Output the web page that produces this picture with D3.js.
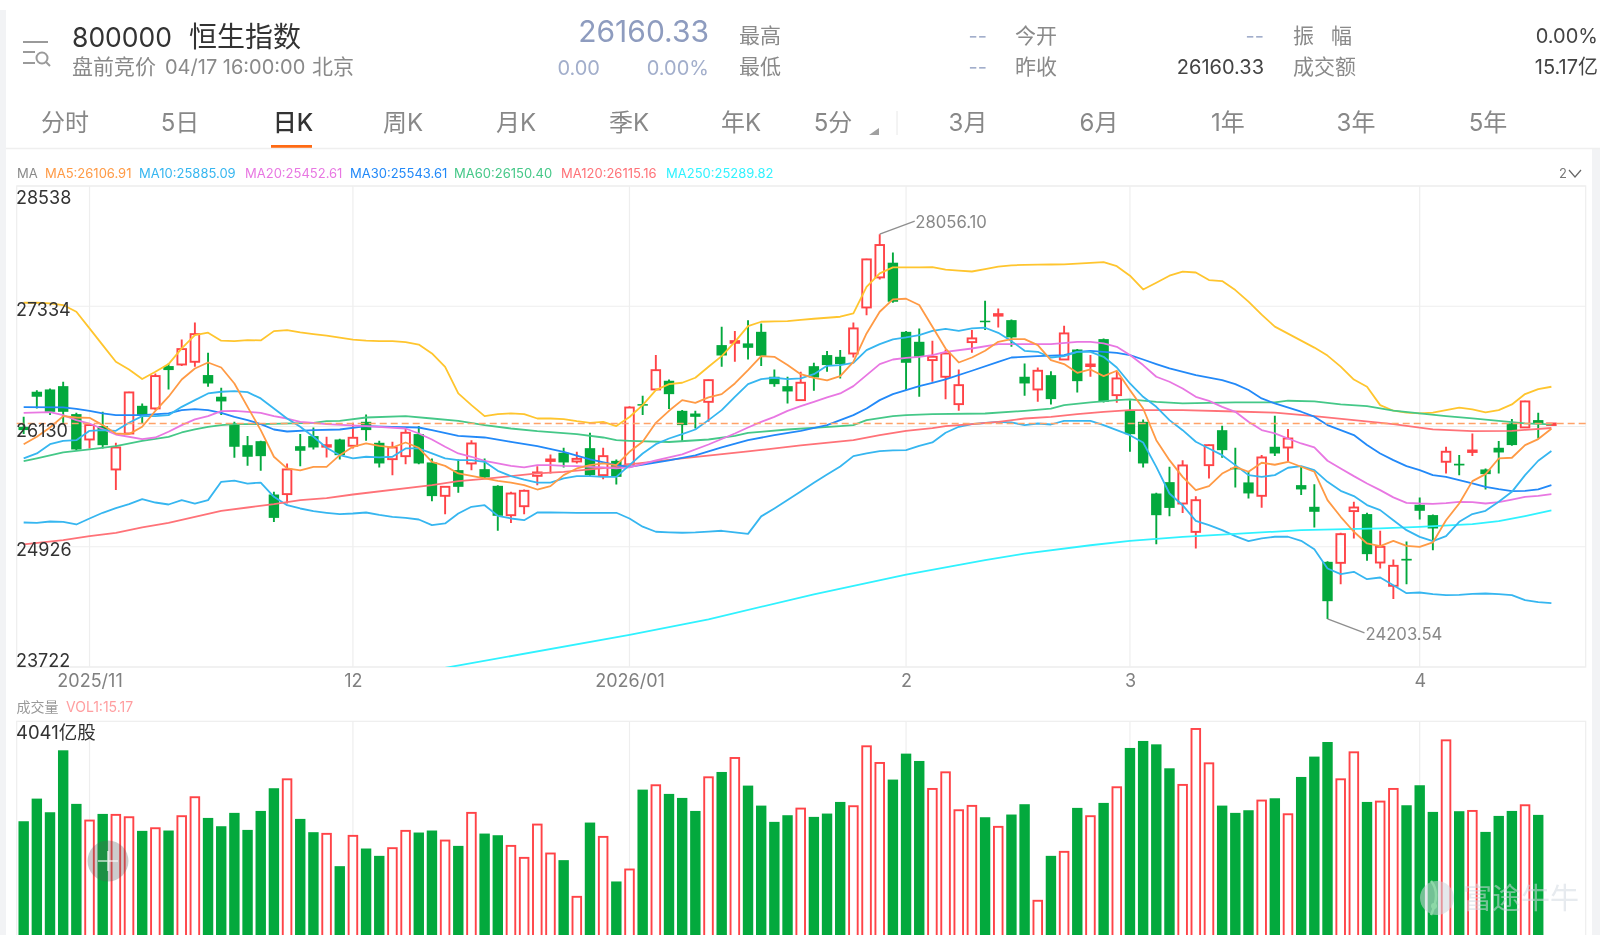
<!DOCTYPE html>
<html>
<head>
<meta charset="utf-8">
<title>恒生指数</title>
<script src="https://cdn.jsdelivr.net/npm/d3@7"></script>
<style>
html, body { margin: 0; padding: 0; background: #fff; overflow: hidden; }
svg { display: block; filter: blur(0.5px); }
text { font-family: Inter, "Noto Sans CJK SC", sans-serif; }
</style>
</head>
<body>
<script>
// daily candles, one per session, from late Oct 2025 to the pre-market doji of 04/17
var candleOpen = [
26127,26478,26501,26534,26254,26000,26134,25700,26060,26337,
26311,26735,26751,26778,26645,26428,26160,25943,25983,25449,
25453,25933,26034,25930,26000,25937,26177,25967,25803,25833,
26054,25770,25436,25693,25760,25703,25536,25242,25332,25636,
25786,25867,25780,25913,25643,25786,25750,26354,26501,26588,
26287,26260,26377,26945,26968,26962,27078,26628,26534,26394,
26734,26845,26828,26861,27322,27623,27770,27078,26978,26795,
26628,26354,26975,27189,27242,27195,26628,26501,26644,26801,
26901,26735,27005,26444,26287,26177,25459,25573,25359,25075,
25743,26093,25716,25570,25436,25927,25920,25543,25326,24775,
24765,25283,25253,24768,24535,24805,25346,25243,25777,25757,
25877,25700,25917,26161,26121,26194,26160.33];
var candleClose = [
26094,26428,26277,26277,25900,26144,25943,25920,26471,26237,
26635,26695,26905,27055,26561,26381,25927,25827,25833,25215,
25700,25887,25920,25943,25843,26017,26094,25760,25920,26067,
25760,25433,25526,25526,25960,25620,25236,25459,25486,25670,
25800,25770,25806,25643,25833,25626,26320,26340,26694,26454,
26144,26227,26594,26841,26985,26918,26838,26554,26481,26568,
26621,26745,26755,27112,27803,27947,27379,26768,26828,26828,
26861,26544,27012,27175,27255,27022,26561,26688,26404,27062,
26584,26751,26377,26611,26053,25760,25242,25315,25740,25392,
25943,25893,25703,25460,25820,25860,26010,25500,25276,24381,
25052,25319,24852,24925,24735,24788,25286,25109,25877,25740,
25890,25653,25870,25944,26381,26154,26160.33];
var candleHigh = [
26227,26494,26511,26578,26267,26160,26277,25967,26478,26361,
26661,26762,27002,27172,26868,26518,26177,26034,25987,25476,
25760,26054,26120,26027,26007,26167,26251,25987,25977,26110,
26134,25810,25533,25800,25993,25810,25543,25476,25499,25733,
25850,25917,25877,26067,25917,25800,26334,26437,26845,26601,
26294,26287,26601,27129,27085,27195,27162,26701,26628,26678,
26768,26885,26895,27172,27810,28056.10,27873,27085,27112,26988,
26901,26701,27095,27389,27312,27202,26761,26721,26684,27139,
26905,26845,27012,26678,26394,26200,25466,25726,25793,25432,
25950,26137,25916,25677,25844,26238,26104,25727,25553,24782,
25066,25376,25266,25086,24798,24979,25420,25249,25927,25844,
26061,25710,25984,26204,26388,26268,26160.33];
var candleLow = [
26054,26311,26244,26160,25893,25910,25910,25493,26054,26160,
26294,26501,26735,26728,26528,26244,25817,25736,25686,25175,
25359,25733,25900,25820,25800,25910,25987,25720,25643,25753,
25753,25382,25252,25466,25693,25610,25085,25165,25252,25543,
25660,25720,25760,25633,25603,25549,25720,26244,26494,26304,
25977,26110,26177,26728,26778,26801,26735,26528,26361,26387,
26487,26678,26611,26821,27245,27603,27369,26494,26427,26578,
26404,26287,26868,27095,27122,26928,26437,26377,26351,26795,
26471,26628,26371,26367,25876,25720,24952,25232,25265,24908,
25609,25816,25519,25409,25316,25834,25777,25443,25119,24203.54,
24551,25009,24785,24708,24404,24551,25199,24892,25660,25643,
25834,25500,25660,25937,26114,26010,26160.33];

// volume in 亿股, the last one is the pre-market auction
var volume = [
2597,2924,2727,3622,2848,2607,2703,2689,2655,2458,
2496,2463,2670,2944,2645,2525,2718,2472,2746,3074,
3203,2631,2439,2415,1948,2386,2203,2097,2208,2458,
2434,2463,2318,2241,2718,2419,2395,2241,2068,2549,
2131,2035,1505,2578,2371,1727,1900,3054,3117,2992,
2934,2746,3232,3309,3511,3112,2823,2588,2684,2780,
2660,2708,2876,2814,3680,3439,3199,3574,3468,3064,
3304,2756,2819,2655,2516,2694,2843,1448,2097,2155,
2790,2670,2862,3088,3656,3757,3708,3362,3122,3930,
3434,2823,2718,2756,2896,2929,2698,3237,3531,3742,
3203,3593,2876,2881,3064,2828,3117,2732,3766,2742,
2746,2443,2674,2746,2828,2689,15.17];

var ma5 = [
25953,26027,26120,26234,26220,26217,26144,26060,26054,26127,
26287,26428,26601,26711,26771,26721,26561,26327,26094,25827,
25710,25690,25726,25726,25843,25927,25960,25937,25920,25970,
25917,25776,25736,25660,25636,25610,25586,25569,25543,25499,
25533,25643,25710,25743,25760,25743,25877,25977,26167,26287,
26394,26367,26421,26454,26561,26694,26835,26828,26745,26654,
26618,26591,26634,26778,27062,27279,27402,27409,27346,27128,
26911,26771,26821,26888,26978,27005,27005,26945,26795,26755,
26668,26701,26634,26688,26494,26310,25993,25793,25626,25492,
25532,25659,25726,25677,25767,25747,25777,25727,25677,25393,
25226,25076,24959,24932,24985,24935,24925,24969,25192,25359,
25583,25653,25810,25817,25944,26004,26106.91];
var ma10 = [
25810,25860,25953,25987,25993,26087,26094,26087,26167,26234,
26234,26244,26327,26394,26461,26478,26484,26474,26411,26311,
26210,26127,26027,25917,25843,25810,25827,25820,25827,25910,
25910,25860,25810,25793,25793,25776,25686,25633,25599,25569,
25569,25610,25633,25633,25626,25626,25743,25860,25953,26010,
26053,26100,26194,26294,26427,26554,26604,26618,26604,26611,
26654,26738,26745,26768,26895,26955,27002,27022,27045,27088,
27108,27088,27112,27119,27068,26985,26888,26878,26821,26835,
26878,26878,26828,26721,26561,26427,26327,26194,26093,25977,
25910,25843,25743,25643,25626,25643,25717,25733,25693,25576,
25486,25433,25343,25293,25192,25092,25025,24982,25032,25176,
25253,25286,25376,25476,25643,25787,25885.09];
var bandUpper = [
27369,27369,27362,27346,27279,27112,26945,26778,26701,26605,
26678,26755,26912,27045,27069,26989,26985,26995,26992,27085,
27095,27072,27055,27040,27020,27000,26990,26985,26985,26975,
26950,26862,26728,26461,26344,26234,26254,26261,26254,26210,
26210,26204,26184,26167,26177,26134,26225,26344,26494,26554,
26568,26618,26728,26835,26978,27135,27179,27182,27185,27197,
27209,27219,27229,27262,27529,27663,27723,27723,27723,27726,
27700,27690,27682,27705,27730,27744,27748,27750,27752,27754,
27760,27768,27775,27735,27640,27502,27570,27640,27680,27672,
27596,27586,27496,27380,27250,27130,27060,26990,26920,26840,
26730,26600,26528,26344,26288,26268,26261,26268,26294,26318,
26301,26271,26294,26351,26455,26505,26528];
var bandLower = [
25169,25165,25179,25175,25149,25209,25266,25312,25352,25402,
25369,25349,25393,25359,25393,25576,25589,25559,25569,25426,
25342,25309,25282,25266,25252,25259,25269,25246,25226,25216,
25199,25142,25159,25259,25326,25342,25236,25209,25192,25269,
25269,25268,25266,25266,25266,25266,25209,25127,25076,25070,
25066,25070,25078,25086,25070,25055,25230,25310,25393,25480,
25566,25650,25730,25833,25860,25883,25890,25894,25936,25970,
26067,26127,26154,26165,26177,26170,26144,26160,26150,26187,
26187,26187,26144,26093,26043,25970,25726,25459,25342,25185,
25142,25092,25032,24982,25009,25026,25026,24985,24902,24708,
24652,24675,24601,24618,24541,24461,24468,24451,24441,24445,
24455,24458,24451,24441,24391,24371,24361];

// slower averages are smooth, so these are [session, price] readings
var ma20 = [[0,26267],[2,26274],[3,26244],[4,26194],[5,26160],[7,26050],[9,26003],[10,26020],[11,26077],[12,26144],[13,26201],[14,26234],[15,26284],[16,26287],[18,26267],[19,26234],[20,26210],[21,26177],[22,26167],[23,26154],[26,26134],[29,26110],[30,26060],[31,26000],[32,25927],[33,25860],[34,25827],[35,25786],[36,25760],[37,25736],[38,25720],[39,25743],[40,25743],[41,25736],[42,25733],[43,25726],[44,25720],[45,25710],[46,25720],[48,25790],[50,25850],[52,25950],[54,26060],[55,26120],[56,26177],[57,26227],[58,26287],[59,26334],[60,26377],[61,26421],[62,26461],[63,26534],[64,26644],[65,26755],[66,26801],[67,26818],[68,26828],[69,26845],[70,26878],[72,26911],[74,26955],[76,26955],[78,26955],[80,26978],[81,26978],[82,26962],[83,26928],[84,26845],[85,26745],[86,26628],[87,26578],[88,26511],[89,26427],[90,26387],[91,26327],[92,26277],[93,26177],[94,26094],[95,26061],[96,26010],[97,25960],[98,25920],[99,25787],[100,25710],[101,25633],[102,25560],[103,25493],[104,25420],[105,25366],[106,25359],[107,25356],[108,25363],[109,25376],[110,25373],[111,25359],[112,25373],[113,25399],[114,25426],[115,25436],[116,25452.61]];
var ma30 = [[0,26324],[3,26321],[4,26307],[5,26287],[6,26261],[7,26244],[9,26244],[11,26261],[12,26294],[13,26304],[14,26294],[15,26267],[16,26227],[17,26194],[18,26154],[19,26100],[20,26080],[22,26094],[24,26100],[26,26134],[28,26127],[30,26120],[31,26094],[33,26037],[35,26020],[37,25977],[39,25933],[41,25877],[43,25800],[45,25743],[46,25726],[49,25790],[51,25840],[53,25920],[55,25993],[57,26043],[59,26087],[61,26144],[62,26194],[63,26244],[64,26310],[65,26394],[66,26454],[67,26494],[68,26534],[69,26568],[70,26601],[72,26688],[74,26778],[75,26821],[77,26835],[79,26845],[80,26878],[81,26888],[83,26868],[84,26845],[85,26801],[86,26755],[87,26711],[89,26644],[91,26594],[92,26554],[93,26495],[94,26411],[95,26361],[97,26278],[98,26228],[99,26144],[100,26094],[101,26044],[102,25944],[103,25860],[104,25793],[105,25733],[106,25693],[107,25643],[108,25626],[109,25593],[110,25560],[111,25526],[112,25503],[113,25483],[114,25486],[115,25500],[116,25543.61]];
var ma60 = [[0,25783],[1,25810],[3,25870],[5,25900],[7,25933],[9,25987],[11,26027],[12,26070],[13,26100],[14,26127],[15,26144],[16,26154],[18,26154],[22,26167],[23,26184],[24,26187],[26,26220],[29,26234],[31,26210],[33,26187],[35,26144],[37,26110],[39,26084],[42,26054],[44,26020],[45,25993],[46,25987],[49,25975],[52,26000],[54,26037],[55,26067],[58,26100],[62,26134],[63,26144],[64,26194],[66,26234],[67,26244],[69,26254],[73,26260],[76,26287],[78,26310],[79,26344],[81,26371],[83,26394],[84,26401],[86,26377],[88,26361],[90,26367],[92,26371],[95,26371],[96,26388],[98,26381],[100,26351],[102,26334],[104,26288],[106,26261],[108,26234],[110,26211],[112,26187],[114,26161],[116,26150.40]];
var ma120 = [[0,24950],[3,24992],[5,25032],[7,25065],[9,25119],[11,25165],[13,25225],[15,25286],[17,25319],[19,25352],[21,25392],[23,25412],[25,25449],[31,25543],[33,25583],[35,25606],[37,25633],[39,25660],[41,25676],[43,25700],[45,25726],[46,25750],[50,25810],[55,25880],[59,25940],[63,25993],[65,26043],[67,26087],[69,26113],[70,26133],[72,26154],[74,26177],[76,26210],[78,26227],[80,26254],[82,26277],[84,26294],[88,26294],[92,26280],[95,26268],[98,26234],[101,26194],[104,26154],[107,26101],[110,26084],[113,26087],[116,26115.16]];
var ma250 = [[31,23690],[46,24043],[52,24200],[60,24450],[67,24646],[73,24791],[76,24858],[81,24941],[84,24985],[88,25025],[92,25055],[97,25092],[103,25109],[106,25126],[110,25152],[112,25182],[114,25233],[116,25289.82]];

var priceTicks = [28538, 27334, 26130, 24926, 23722];
var monthTicks = [5, 25, 46, 67, 84, 106];
var monthLabels = ["2025/11", "12", "2026/01", "2", "3", "4"];
var lastPrice = 26160.33;

var tabLabels = ["分时", "5日", "日K", "周K", "月K", "季K", "年K", "5分", "3月", "6月", "1年", "3年", "5年"];
var tabCenters = [65, 180, 293, 403, 516, 629, 741, 833, 968, 1099, 1228, 1356, 1488];

var legendLabels = ["MA5:26106.91", "MA10:25885.09", "MA20:25452.61", "MA30:25543.61", "MA60:26150.40", "MA120:26115.16", "MA250:25289.82"];
var legendStarts = [45, 139, 245, 350, 454, 561, 666];

var RED = "#ff4347", GREEN = "#03a93d";
var lineColors = { ma5: "#ff9a45", ma10: "#36b6f0", ma20: "#e877e2", ma30: "#2289f8", ma60: "#45c888", ma120: "#ff7278", ma250: "#30f2ff", upper: "#ffc52e", lower: "#36b6f0" };
var legendColors = [lineColors.ma5, lineColors.ma10, lineColors.ma20, lineColors.ma30, lineColors.ma60, lineColors.ma120, lineColors.ma250];

var left = 16.7, right = 1585.7;
var priceTop = 186, priceBottom = 667, volTop = 721.3;

var svg = d3.select("body").append("svg")
    .attr("width", 1600)
    .attr("height", 935);

var xScale = d3.scaleLinear().domain([0, 116]).range([23.67, 1551.4]);
var yScale = d3.scaleLinear().domain([23722, 28538]).range([priceBottom, priceTop]);
// the volume panel runs past the bottom of the window, zero sits below it
var vScale = d3.scaleLinear().domain([0, 4041]).range([1001, volTop]);

function label(str, x, y, size, color, anchor, weight) {
    return svg.append("text")
        .attr("x", x)
        .attr("y", y)
        .attr("font-size", size + "px")
        .attr("fill", color)
        .attr("text-anchor", anchor || "start")
        .attr("font-weight", weight || 400)
        .text(str);
}

// page side strips
svg.append("rect").attr("x", 0).attr("y", 10).attr("width", 6).attr("height", 925).attr("fill", "#f2f3f5");
svg.append("rect").attr("x", 1592).attr("y", 148).attr("width", 8).attr("height", 787).attr("fill", "#f2f3f5");

// Header
var icon = svg.append("g").attr("stroke", "#9a9a9a").attr("fill", "none").attr("stroke-width", 2);
icon.append("line").attr("x1", 23).attr("x2", 48).attr("y1", 42).attr("y2", 42);
icon.append("line").attr("x1", 23).attr("x2", 35).attr("y1", 52).attr("y2", 52);
icon.append("line").attr("x1", 23).attr("x2", 35).attr("y1", 63).attr("y2", 63);
icon.append("circle").attr("cx", 42).attr("cy", 58).attr("r", 5.5);
icon.append("line").attr("x1", 46).attr("x2", 50).attr("y1", 62).attr("y2", 66);

label("800000", 72, 47, 26.5, "#333333");
label("恒生指数", 189, 47, 28, "#333333");
label("盘前竞价", 72, 74, 21, "#8a8a8a");
label("04/17 16:00:00", 165, 74, 20, "#8a8a8a");
label("北京", 312, 74, 21, "#8a8a8a");

label("26160.33", 709, 42, 30, "#8e9cbf", "end");
label("0.00", 600, 75, 20, "#a2aecb", "end");
label("0.00%", 709, 75, 20, "#a2aecb", "end");

label("最高", 739, 43, 21, "#8a8a8a");
label("最低", 739, 74, 21, "#8a8a8a");
label("--", 987, 43, 20, "#a2aecb", "end");
label("--", 987, 74, 20, "#a2aecb", "end");
label("今开", 1015, 43, 21, "#8a8a8a");
label("昨收", 1015, 74, 21, "#8a8a8a");
label("--", 1264, 43, 20, "#a2aecb", "end");
label("26160.33", 1264, 74, 20, "#444444", "end");
label("振", 1293, 43, 21, "#8a8a8a");
label("幅", 1331, 43, 21, "#8a8a8a");
label("成交额", 1293, 74, 21, "#8a8a8a");
label("0.00%", 1598, 43, 20, "#444444", "end");
label("15.17亿", 1598, 74, 20, "#444444", "end");

// Tabs
tabLabels.forEach(function(t, i) {
    var active = t === "日K";
    label(t, tabCenters[i], 131, 24, active ? "#333333" : "#888888", "middle", active ? 500 : 400);
});
svg.append("rect").attr("x", 271).attr("y", 145).attr("width", 41).attr("height", 3.2).attr("fill", "#ff6a13");
svg.append("path").attr("d", "M879 128 L879 135 L869 135 Z").attr("fill", "#a0a0a0");
svg.append("line").attr("x1", 897).attr("x2", 897).attr("y1", 111).attr("y2", 135).attr("stroke", "#e8e8e8");
svg.append("line").attr("x1", 6).attr("x2", 1600).attr("y1", 148.5).attr("y2", 148.5).attr("stroke", "#efefef").attr("stroke-width", 1.5);

// MA legend
label("MA", 17, 177.5, 13, "#8a8a8a");
legendLabels.forEach(function(t, i) {
    label(t, legendStarts[i], 177.5, 13, legendColors[i]);
});
label("2", 1559, 177.5, 13, "#777777");
svg.append("path").attr("d", "M1569 170 L1575 177 L1581 170").attr("fill", "none").attr("stroke", "#666666").attr("stroke-width", 1.2);

// Panels and grid
var grid = svg.append("g").attr("stroke", "#eeeeee").attr("stroke-width", 1.2).attr("fill", "none");
grid.append("rect").attr("x", left).attr("y", priceTop).attr("width", right - left).attr("height", priceBottom - priceTop);
grid.append("rect").attr("x", left).attr("y", volTop).attr("width", right - left).attr("height", 400);
grid.selectAll(".h").data(priceTicks).enter().append("line")
    .attr("x1", left).attr("x2", right)
    .attr("y1", d => yScale(d)).attr("y2", d => yScale(d));
monthTicks.forEach(function(m) {
    grid.append("line").attr("x1", xScale(m)).attr("x2", xScale(m)).attr("y1", priceTop).attr("y2", priceBottom);
    grid.append("line").attr("x1", xScale(m)).attr("x2", xScale(m)).attr("y1", volTop).attr("y2", 935);
});

svg.append("defs").append("clipPath").attr("id", "priceClip").append("rect")
    .attr("x", left).attr("y", priceTop).attr("width", right - left).attr("height", priceBottom - priceTop);
var plot = svg.append("g").attr("clip-path", "url(#priceClip)");

// Candles
var candles = plot.selectAll(".candle").data(d3.range(candleOpen.length)).enter().append("g");
var isUp = i => candleClose[i] >= candleOpen[i];
candles.append("line")
    .attr("x1", i => xScale(i)).attr("x2", i => xScale(i))
    .attr("y1", i => yScale(candleHigh[i])).attr("y2", i => yScale(candleLow[i]))
    .attr("stroke", i => isUp(i) ? RED : GREEN)
    .attr("stroke-width", 1.9);
candles.append("rect")
    .attr("x", i => xScale(i) - (isUp(i) ? 4.3 : 5.2))
    .attr("width", i => isUp(i) ? 8.6 : 10.4)
    .attr("y", i => yScale(Math.max(candleOpen[i], candleClose[i])))
    .attr("height", i => Math.max(1.5, Math.abs(yScale(candleOpen[i]) - yScale(candleClose[i]))))
    .attr("fill", i => isUp(i) ? "#fff" : GREEN)
    .attr("stroke", i => isUp(i) ? RED : "none")
    .attr("stroke-width", 1.9);

// Moving averages and band
var fullLine = d3.line().x((d, i) => xScale(i)).y(d => yScale(d));
var pairLine = d3.line().x(d => xScale(d[0])).y(d => yScale(d[1]));
function drawLine(path, color) {
    plot.append("path").attr("d", path).attr("fill", "none").attr("stroke", color)
        .attr("stroke-width", 1.8).attr("stroke-linejoin", "round");
}
drawLine(fullLine(bandLower), lineColors.lower);
drawLine(fullLine(bandUpper), lineColors.upper);
drawLine(pairLine(ma250), lineColors.ma250);
drawLine(pairLine(ma120), lineColors.ma120);
drawLine(pairLine(ma60), lineColors.ma60);
drawLine(pairLine(ma30), lineColors.ma30);
drawLine(pairLine(ma20), lineColors.ma20);
drawLine(fullLine(ma10), lineColors.ma10);
drawLine(fullLine(ma5), lineColors.ma5);

// Last price line
svg.append("line")
    .attr("x1", left).attr("x2", right)
    .attr("y1", yScale(lastPrice)).attr("y2", yScale(lastPrice))
    .attr("stroke", "#ffa268").attr("stroke-width", 1.6).attr("stroke-dasharray", "7,4");

// Price labels sit inside the panel, the first and last are pushed in from the edges
var labelShift = [17.5, 10, 10, 9, 0];
priceTicks.forEach(function(p, i) {
    label(p, 16, yScale(p) + labelShift[i], 18, "#333333");
});

// High and low callouts
var hiIdx = candleHigh.indexOf(d3.max(candleHigh));
var loIdx = candleLow.indexOf(d3.min(candleLow));
var callout = svg.append("g").attr("stroke", "#8f8f8f").attr("stroke-width", 1.4);
callout.append("line").attr("x1", xScale(hiIdx)).attr("y1", yScale(candleHigh[hiIdx]))
    .attr("x2", xScale(hiIdx) + 35).attr("y2", yScale(candleHigh[hiIdx]) - 13);
callout.append("line").attr("x1", xScale(loIdx)).attr("y1", yScale(candleLow[loIdx]))
    .attr("x2", xScale(loIdx) + 37).attr("y2", yScale(candleLow[loIdx]) + 14);
label(candleHigh[hiIdx].toFixed(2), xScale(hiIdx) + 35.5, yScale(candleHigh[hiIdx]) - 6, 16.7, "#888888");
label(candleLow[loIdx].toFixed(2), xScale(loIdx) + 38, yScale(candleLow[loIdx]) + 21, 16.7, "#888888");

// Month labels from a bottom axis
var monthAxis = svg.append("g")
    .attr("transform", "translate(0," + priceBottom + ")")
    .call(d3.axisBottom(xScale).tickValues(monthTicks).tickSize(0).tickPadding(0)
        .tickFormat((d, i) => monthLabels[i]));
monthAxis.select(".domain").remove();
monthAxis.selectAll("text")
    .attr("y", 20)
    .attr("dy", 0)
    .attr("fill", "#808080")
    .attr("font-size", "18px")
    .attr("font-family", 'Inter, "Noto Sans CJK SC", sans-serif');

// Volume
label("成交量", 16.5, 712, 14, "#999999");
label("VOL1:15.17", 66, 712, 14, "#ff9ea0");

svg.selectAll(".vol").data(volume).enter().append("rect")
    .attr("x", (d, i) => xScale(i) - (isUp(i) ? 4.3 : 5.2))
    .attr("width", (d, i) => isUp(i) ? 8.6 : 10.4)
    .attr("y", d => vScale(d))
    .attr("height", d => 1001 - vScale(d))
    .attr("fill", (d, i) => isUp(i) ? "#fff" : GREEN)
    .attr("stroke", (d, i) => isUp(i) ? RED : "none")
    .attr("stroke-width", 1.9);

label("4041亿股", 16, 739, 18.5, "#333333");

// Floating zoom button over the volume bars
svg.append("circle").attr("cx", 108).attr("cy", 861).attr("r", 20.5).attr("fill", "#555555").attr("fill-opacity", 0.3);
svg.append("path").attr("d", "M98 861 H118 M108 851 V871").attr("stroke", "#ffffff").attr("stroke-opacity", 0.75).attr("stroke-width", 1.5);

// Watermark
var mark = svg.append("g").attr("opacity", 0.55);
mark.append("circle").attr("cx", 1437).attr("cy", 898).attr("r", 17).attr("fill", "#cfd6de");
mark.append("circle").attr("cx", 1434).attr("cy", 906).attr("r", 3).attr("fill", "#fff");
mark.append("path").attr("d", "M1431 881 Q1441 893 1431 915").attr("stroke", "#fff").attr("stroke-width", 2.5).attr("fill", "none");
mark.append("text").attr("x", 1463).attr("y", 909).attr("font-size", "29px").attr("fill", "#d3dae2").text("富途牛牛");
</script>
</body>
</html>
